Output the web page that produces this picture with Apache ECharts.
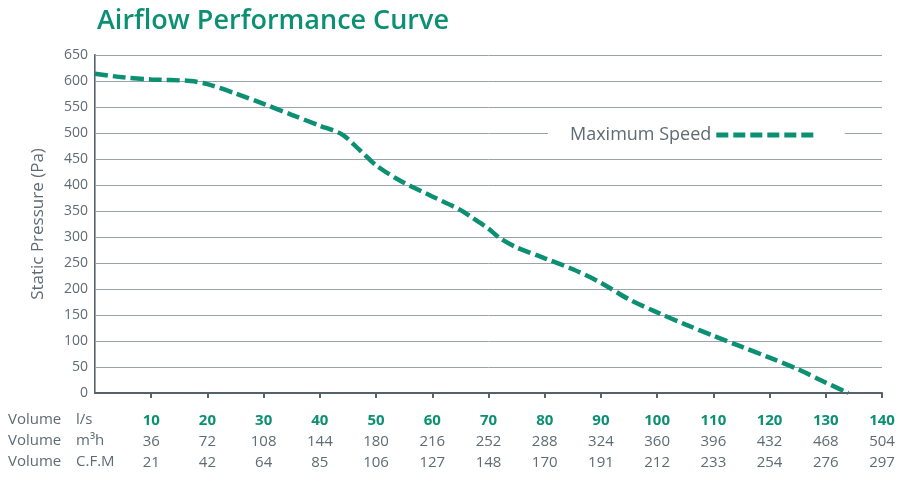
<!DOCTYPE html>
<html>
<head>
<meta charset="utf-8">
<script src="https://cdn.jsdelivr.net/npm/echarts@6/dist/echarts.min.js"></script>
<style>
  html, body { margin: 0; padding: 0; background: #fff; }
  #chart { width: 900px; height: 477px; }
</style>
</head>
<body>
<div id="chart"></div>
<script>
// curva (l/s -> Pa)
var flowLs     = [0,   5,   10,  17,  20,  25,  30,  35,  40,  44,  47,  50,  54,  60,  65,  67,  70,  72,  75,  80,  85,  90,  95,  100, 105, 110, 115, 120, 125, 130, 134];
var pressurePa = [614, 607, 603, 600, 594, 576, 556, 535, 514, 497, 468, 438, 410, 378, 352, 338, 316, 298, 280, 259, 238, 212, 180, 155, 132, 110, 89,  68,  46,  20,  0];

// linhas da tabela de baixo
var lsTicks  = [10, 20, 30, 40, 50, 60, 70, 80, 90, 100, 110, 120, 130, 140];
var m3hTicks = [36, 72, 108, 144, 180, 216, 252, 288, 324, 360, 396, 432, 468, 504];
var cfmTicks = [21, 42, 64, 85, 106, 127, 148, 170, 191, 212, 233, 254, 276, 297];
var rowNames = ['Volume', 'Volume', 'Volume'];
var rowUnits = ['l/s', 'm³h', 'C.F.M'];

var verde = '#0c9073';
var cinza = '#5f6b73';
var fonte = 'Open Sans';

function pegaTick(lista) {
    return function (v) {
        var i = Math.round(v / 10) - 1;
        return i >= 0 && i < lista.length ? String(lista[i]) : '';
    };
}

function eixoX(lista, offset, principal) {
    return {
        type: 'value',
        position: 'bottom',
        min: 0,
        max: 140,
        interval: 10,
        offset: offset,
        axisLine: principal ? { show: true, lineStyle: { color: '#56626b', width: 2 } } : { show: false },
        axisTick: principal ? { show: true, length: 5, lineStyle: { color: '#56626b', width: 2 } } : { show: false },
        splitLine: { show: false },
        axisLabel: {
            margin: 20,
            formatter: pegaTick(lista),
            color: principal ? verde : cinza,
            fontWeight: principal ? 'bold' : 'normal',
            fontSize: 15,
            fontFamily: fonte,
            showMinLabel: false
        }
    };
}

var rowY = [420, 441, 462];
var cabecalho = [];
rowNames.forEach(function (nome, i) {
    cabecalho.push({
        type: 'text', x: 8, y: rowY[i],
        style: { text: nome, fill: cinza, font: '15px "Open Sans"', verticalAlign: 'middle' }
    });
    cabecalho.push({
        type: 'text', x: 76, y: rowY[i],
        style: { text: rowUnits[i], fill: cinza, font: '15px "Open Sans"', verticalAlign: 'middle' }
    });
});

var myChart = echarts.init(document.getElementById('chart'));
var option = {
    animation: false,
    backgroundColor: '#fff',
    title: {
        text: 'Airflow Performance Curve',
        left: 92,
        top: 3,
        textStyle: { color: verde, fontSize: 27, fontWeight: 600, fontFamily: fonte }
    },
    legend: {
        data: [{ name: 'Maximum Speed', itemStyle: { opacity: 0 } }],
        left: 548,
        top: 124,
        align: 'right',
        itemWidth: 102,
        itemHeight: 14,
        itemGap: 4,
        padding: [2, 24, 2, 22],
        backgroundColor: '#fff',
        lineStyle: { color: verde, width: 5, type: [12, 5] },
        textStyle: { color: cinza, fontSize: 18, fontFamily: fonte }
    },
    grid: { left: 95, right: 18, top: 55, bottom: 84, containLabel: false },
    xAxis: [
        eixoX(lsTicks, 0, true),
        eixoX(m3hTicks, 21, false),
        eixoX(cfmTicks, 42, false)
    ],
    yAxis: [
        {
            type: 'value',
            min: 0,
            max: 650,
            interval: 50,
            name: 'Static Pressure (Pa)',
            nameLocation: 'middle',
            nameGap: 48,
            nameTextStyle: { color: cinza, fontSize: 17, fontFamily: fonte },
            axisLine: { show: true, lineStyle: { color: '#56626b', width: 2 } },
            axisTick: { show: false },
            splitLine: { show: true, lineStyle: { color: '#9aa3aa', width: 1 } },
            axisLabel: { color: cinza, fontSize: 14, fontFamily: fonte, margin: 7 }
        },
        {
            type: 'value',
            position: 'right',
            min: 0,
            max: 650,
            interval: 50,
            axisLine: { show: true, lineStyle: { color: '#9aa3aa', width: 1 } },
            axisTick: { show: false },
            axisLabel: { show: false },
            splitLine: { show: false }
        }
    ],
    graphic: cabecalho,
    series: [
        {
            name: 'Maximum Speed',
            type: 'line',
            smooth: 0.3,
            symbol: 'none',
            xAxisIndex: 0,
            yAxisIndex: 0,
            z: 1,
            data: flowLs.map(function (x, i) { return [x, pressurePa[i]]; }),
            lineStyle: { color: verde, width: 4.5, type: [13, 5] },
            itemStyle: { color: verde }
        }
    ]
};

myChart.setOption(option);
</script>
</body>
</html>
